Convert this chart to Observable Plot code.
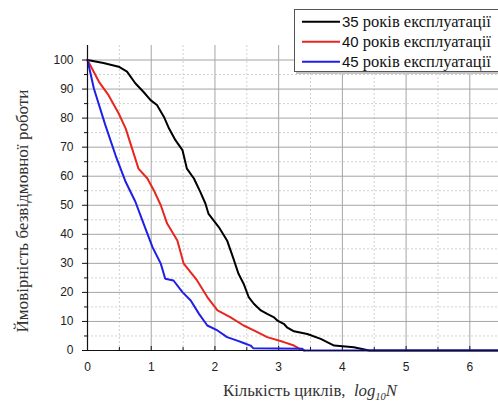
<!DOCTYPE html>
<html><head><meta charset="utf-8">
<script src="https://cdn.jsdelivr.net/npm/d3@7"></script>
<script src="https://cdn.jsdelivr.net/npm/@observablehq/plot@0.6"></script>
<style>body{margin:0;background:#fff;} #chart{position:relative;width:498px;height:403px;}
.serif{font-family:"Liberation Serif","DejaVu Serif","Times New Roman",serif !important;}
.sans{font-family:"Liberation Sans","DejaVu Sans",Arial,sans-serif !important;}
</style>
</head><body><div id="chart"></div>
<script>
// Series: log10 N (x) and probability of failure-free operation, % (p)
const x35 = [0, 0.25, 0.49, 0.62, 0.75, 0.88, 0.99, 1.09, 1.20, 1.28, 1.38, 1.49, 1.56, 1.67, 1.77, 1.85, 1.90, 2.06, 2.19, 2.30, 2.37, 2.45, 2.53, 2.61, 2.72, 2.82, 2.92, 2.98, 3.08, 3.13, 3.24, 3.45, 3.66, 3.87, 4.18, 4.29, 4.42, 6.45];
const p35 = [100, 99, 97.7, 96, 92, 89, 86.2, 84.5, 80.4, 76.4, 72.4, 69, 62.6, 59.2, 54.6, 50.6, 47, 42.5, 37.9, 31, 26.4, 23, 18.4, 16.1, 13.8, 12.6, 11.5, 10.3, 9.2, 8, 6.6, 5.7, 4, 1.7, 1.1, 0.6, 0, 0];
const x40 = [0, 0.18, 0.33, 0.49, 0.60, 0.70, 0.80, 0.94, 1.04, 1.15, 1.25, 1.41, 1.51, 1.72, 1.88, 2.04, 2.24, 2.45, 2.61, 2.72, 2.82, 3.08, 3.24, 3.33, 3.40];
const p40 = [100, 92.5, 87.9, 81.6, 76.4, 69.5, 62.6, 59.2, 55.2, 50, 43.7, 37.9, 29.9, 24.1, 18.4, 13.8, 11.5, 8.6, 6.9, 5.7, 4.6, 2.9, 1.7, 0.6, 0];
const x45 = [0, 0.10, 0.28, 0.44, 0.60, 0.75, 0.88, 1.02, 1.15, 1.22, 1.35, 1.49, 1.62, 1.75, 1.88, 2.04, 2.19, 2.35, 2.45, 2.56, 2.60, 3.37, 3.40, 6.45];
const p45 = [100, 90.2, 77.6, 67.2, 58, 51.3, 43.7, 35.6, 29.9, 24.7, 24.1, 20.1, 17.2, 12.6, 8.6, 6.9, 4.6, 3.4, 2.6, 1.7, 0.8, 0.6, 0, 0];

const seriesNames = ["35", "40", "45"];
const legendSuffix = " років експлуатації";
const colors = ["#000000", "#e8251f", "#1f1fe8"];
const xMajor = [0, 1, 2, 3, 4, 5, 6];
const xMinor = [0.5, 1.5, 2.5, 3.5, 4.5, 5.5];
const yMajor = [0, 10, 20, 30, 40, 50, 60, 70, 80, 90, 100];
const yMinor = [5, 15, 25, 35, 45, 55, 65, 75, 85, 95];
const yLabel = "Ймовірність безвідмовної роботи";
const xLabelMain = "Кількість циклів,  ";

const table = [];
[[x35, p35], [x40, p40], [x45, p45]].forEach(([xs, ps], i) => {
  xs.forEach((x, j) => table.push({s: seriesNames[i], x, p: ps[j]}));
});

const W = 498, H = 403, mL = 87, mR = 0, mT = 45, mB = 53;
const innerH = H - mT - mB;
const SANS = "'Liberation Sans', Arial, sans-serif";

const svg = Plot.plot({
  width: W, height: H, marginLeft: mL, marginRight: mR, marginTop: mT, marginBottom: mB,
  x: {domain: [0, 6.45]},
  y: {domain: [0, 105]},
  color: {domain: seriesNames, range: colors},
  style: {fontFamily: SANS, fontSize: "12px", color: "#222", background: "white"},
  marks: [
    Plot.ruleY(yMinor, {stroke: "#d2d2d2", strokeDasharray: "2,2"}),
    Plot.ruleX(xMinor, {stroke: "#d2d2d2", strokeDasharray: "2,2"}),
    Plot.ruleY(yMajor.filter(d => d > 0), {stroke: "#a5a5a5"}),
    Plot.ruleX(xMajor.filter(d => d > 0), {stroke: "#a5a5a5"}),
    Plot.axisY(yMajor, {tickSize: 5, tickPadding: 9, label: null, stroke: "#111"}),
    Plot.axisY(yMinor, {tickSize: 3, text: null, label: null, stroke: "#111"}),
    Plot.axisX(xMajor, {tickSize: 0, tickPadding: 12, label: null}),
    Plot.tickX(xMajor, {x: d => d, insetTop: innerH - 4, stroke: "#111"}),
    Plot.tickX(xMinor, {x: d => d, insetTop: innerH - 3, stroke: "#111"}),
    Plot.line(table, {x: "x", y: "p", z: "s", stroke: "s", strokeWidth: 2, strokeLinejoin: "miter"}),
    Plot.ruleX([0], {stroke: "#111", strokeWidth: 1.2}),
    Plot.ruleY([0], {stroke: "#111", strokeWidth: 1.2})
  ]
});

const root = d3.select(svg);
// Y axis title
root.append("text").attr("class", "serif")
  .attr("font-family", "Liberation Serif")
  .attr("transform", "translate(22,211) rotate(-90)")
  .style("text-anchor", "middle").attr("dominant-baseline", "central")
  .style("font-size", "16px").attr("fill", "#333")
  .attr("textLength", 243).attr("lengthAdjust", "spacingAndGlyphs")
  .text(yLabel);
// X axis title
const xt = root.append("text").attr("class", "serif")
  .attr("font-family", "Liberation Serif")
  .attr("x", 310).attr("y", 396)
  .style("text-anchor", "middle")
  .style("font-size", "16px").attr("fill", "#333")
  .attr("textLength", 174).attr("lengthAdjust", "spacingAndGlyphs");
xt.append("tspan").text(xLabelMain);
xt.append("tspan").style("font-style", "italic").text("log");
xt.append("tspan").style("font-style", "italic").style("font-size", "10px").attr("dy", 4).text("10");
xt.append("tspan").style("font-style", "italic").attr("dy", -4).text("N");

// Legend
const lg = root.append("g");
lg.append("rect").attr("x", 296).attr("y", 12).attr("width", 210).attr("height", 62).attr("fill", "#c4c4c4");
lg.append("rect").attr("x", 294.5).attr("y", 9.5).attr("width", 210).attr("height", 62)
  .attr("fill", "white").attr("stroke", "#555");
seriesNames.forEach((name, i) => {
  const cy = 21.7 + i * 20;
  lg.append("line").attr("x1", 302).attr("x2", 340).attr("y1", cy).attr("y2", cy)
    .attr("stroke", colors[i]).attr("stroke-width", 2);
  const t = lg.append("text").attr("x", 342).attr("y", cy + 5).attr("fill", "#111")
    .style("text-anchor", "start");
  t.append("tspan").attr("class", "sans").style("font-size", "15px").text(name);
  t.append("tspan").attr("class", "serif").attr("font-family", "Liberation Serif").style("font-size", "16.5px").text(legendSuffix);
});

document.getElementById("chart").appendChild(svg);
</script>
</body></html>
